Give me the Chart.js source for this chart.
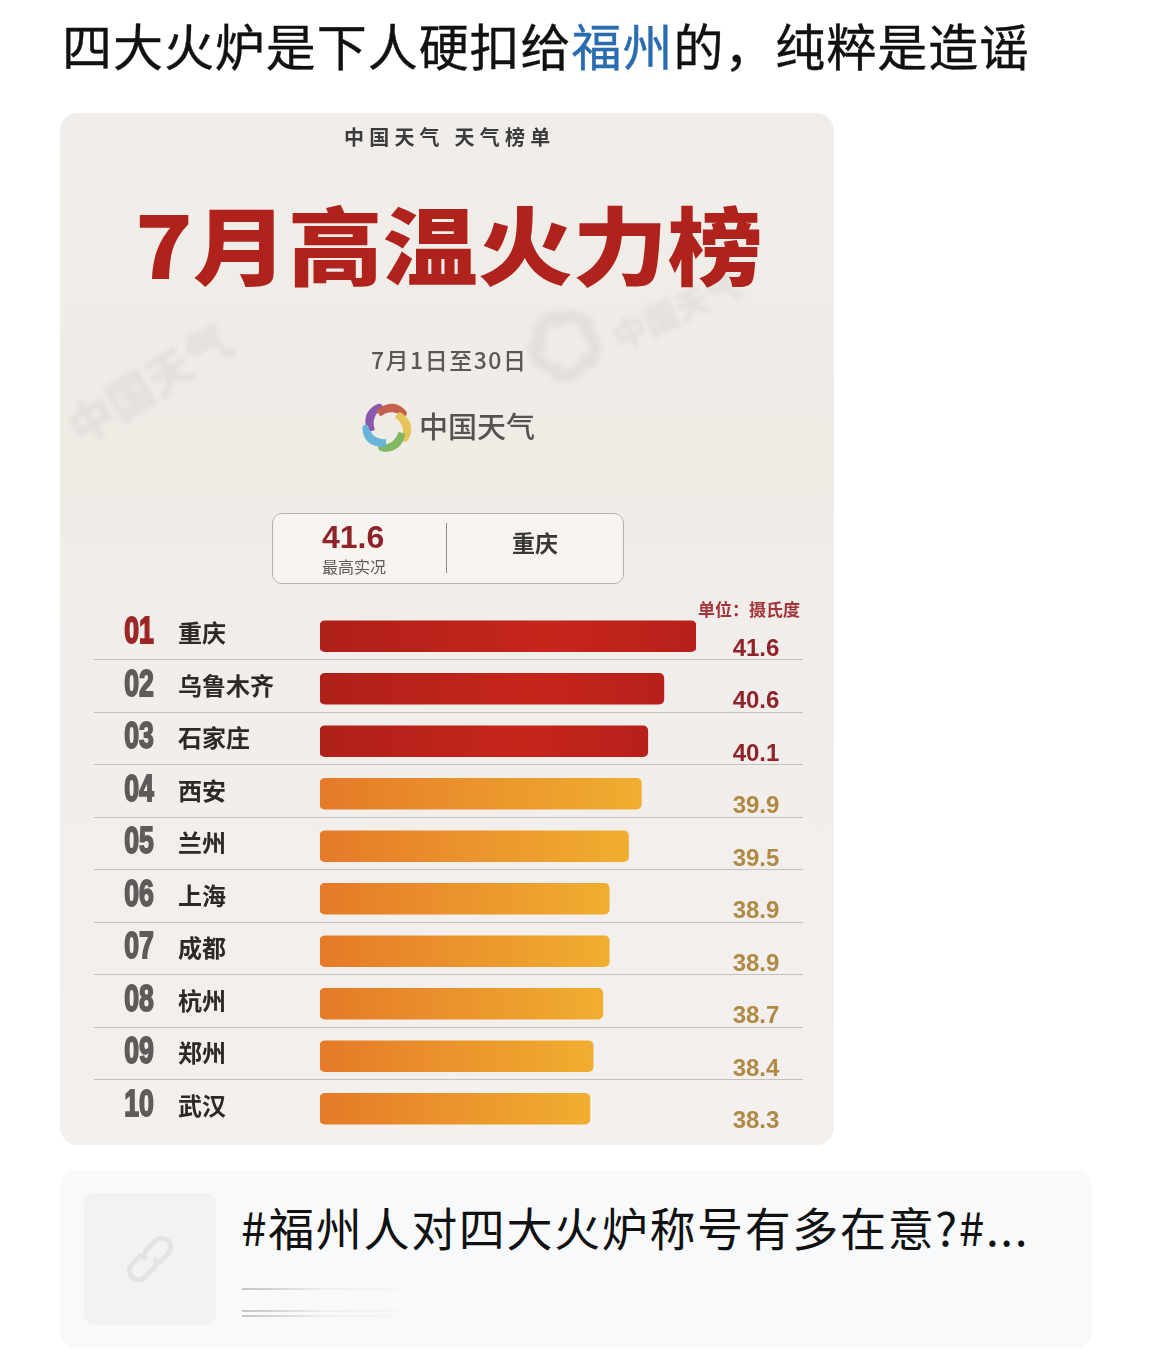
<!DOCTYPE html>
<html lang="zh">
<head>
<meta charset="utf-8">
<title>7月高温火力榜</title>
<script src="https://cdn.jsdelivr.net/npm/chart.js@4"></script>
<style>
  html, body { margin: 0; padding: 0; background: #fff; }
  body { width: 1152px; height: 1356px; position: relative; overflow: hidden; font-family: "Noto Sans CJK SC", sans-serif; }
  .t { position: absolute; white-space: nowrap; line-height: 1; }
  #card { position: absolute; left: 60px; top: 113px; width: 774px; height: 1032px; border-radius: 18px; overflow: hidden;
    background: linear-gradient(180deg, #f1edea 0%, #efece6 35%, #f1edea 50%, #f4f0ee 100%); filter: blur(0.6px); }
  #chartBox { position: absolute; left: 0; top: 477px; width: 774px; height: 555px; }
  #box { position: absolute; left: 212px; top: 400px; width: 350px; height: 69px; background: #f8f5f0; border: 1px solid #b5b1ab; border-radius: 10px; }
  #divider { position: absolute; left: 386px; top: 410px; width: 1px; height: 50px; background: #8d8a86; }
  .wm { color: #e4dfda; font-weight: 900; filter: blur(2.5px); }
  #link { position: absolute; left: 60px; top: 1170px; width: 1032px; height: 178px; background: #f8f9fb; border-radius: 16px; }
  #icon { position: absolute; left: 24px; top: 23px; width: 132px; height: 132px; background: #f1f2f4; border-radius: 10px; }
  .fade { position: absolute; left: 182px; width: 180px; height: 2px; background: linear-gradient(90deg, #c4c4c6, #eeeeef 45%, #f8f9fb); }
</style>
</head>
<body>
<div class="t" id="headline" style="left:62px;top:19px;font-size:50px;font-weight:400;-webkit-text-stroke:.35px #111;letter-spacing:.95px;color:#111">四大火炉是下人硬扣给<span style="color:#2b6cb0;-webkit-text-stroke:.35px #2b6cb0">福州</span>的，纯粹是造谣</div>

<div id="card">
  <div class="t wm" style="left:-4px;top:245px;font-size:46px;transform:rotate(-32deg)">中国天气</div>
  <svg class="wm" style="position:absolute;left:463px;top:190px" width="84" height="84" viewBox="0 0 56 56">
    <g id="wmBlades"></g>
  </svg>
  <div class="t wm" style="left:548px;top:180px;font-size:34px;transform:rotate(-25deg);color:#e3dfda">中国天气</div>

  <div class="t" style="left:284px;top:14px;font-size:20px;font-weight:700;letter-spacing:5.2px;color:#3c3c3c">中国天气 天气榜单</div>
  <div class="t" style="left:75px;top:76px;font-size:95px;font-weight:900;color:#b0221c;transform:scaleY(.9);transform-origin:50% 100%">7月高温火力榜</div>
  <div class="t" style="left:311px;top:235px;font-size:23px;font-weight:500;letter-spacing:1.5px;color:#5a5856">7月1日至30日</div>
  <svg style="position:absolute;left:299px;top:286px" width="56" height="56" viewBox="0 0 56 56">
    <g id="logoBlades"></g>
  </svg>
  <div class="t" style="left:359px;top:298px;font-size:29px;font-weight:500;color:#55534f">中国天气</div>
  <div id="box"></div>
  <div id="divider"></div>
  <div class="t" style="left:262px;top:408px;font-family:'Liberation Sans';font-size:32px;font-weight:700;color:#8f2329">41.6</div>
  <div class="t" style="left:262px;top:445px;font-size:16px;color:#5c5a58">最高实况</div>
  <div class="t" style="left:452px;top:418px;font-size:23px;font-weight:700;color:#3a3836">重庆</div>
  <div class="t" style="left:638px;top:487px;font-size:17px;font-weight:700;color:#a2343a">单位：摄氏度</div>
  <div id="chartBox"><canvas id="chart"></canvas></div>
</div>

<div id="link">
  <div id="icon">
    <svg width="132" height="132" viewBox="0 0 132 132" fill="none" stroke="#e2e3e5" stroke-width="6" stroke-linecap="round">
      <g transform="translate(66 66) scale(.82) rotate(-45) translate(-66 -66)">
        <path d="M60 55 H46 a11 11 0 0 0 0 22 H62 a11 11 0 0 0 8 -6"/>
        <path d="M72 77 H86 a11 11 0 0 0 0 -22 H70 a11 11 0 0 0 -8 6"/>
      </g>
    </svg>
  </div>
  <div class="t" style="left:181px;top:33px;font-size:46px;letter-spacing:1.65px;color:#111">#福州人对四大火炉称号有多在意?#...</div>
  <div class="fade" style="top:118px"></div>
  <div class="fade" style="top:140px"></div>
  <div class="fade" style="top:145px"></div>
</div>

<script>
// values
const ranks = ['01', '02', '03', '04', '05', '06', '07', '08', '09', '10'];
const cities = ['重庆', '乌鲁木齐', '石家庄', '西安', '兰州', '上海', '成都', '杭州', '郑州', '武汉'];
const temps = [41.6, 40.6, 40.1, 39.9, 39.5, 38.9, 38.9, 38.7, 38.4, 38.3];
const hotLimit = 40;
const axisMin = 29.9;
const axisMax = 41.6;

// logo blades, one shape turned five times
const bladePath = 'M19 5 C8 9 3 20 9 33 L16 31 C13 23 15 15 23 10 C25 7 22 4 19 5Z';
const bladeColors = ['#8a58ae', '#c4604c', '#e6c65a', '#82b860', '#68b4d8'];
const wmColors = ['#e3dfda', '#e3dfda', '#e3dfda', '#e3dfda', '#e3dfda'];
function fillBlades(id, colors) {
  document.getElementById(id).innerHTML = colors.map(function (c, i) {
    return '<path d="' + bladePath + '" fill="' + c + '" transform="rotate(' + (i * 72) + ' 28 28)"/>';
  }).join('');
}
fillBlades('logoBlades', bladeColors);
fillBlades('wmBlades', wmColors);

function barFill(context) {
  const chart = context.chart;
  if (!chart.chartArea) return '#c6261b';
  const v = temps[context.dataIndex];
  const g = chart.ctx.createLinearGradient(chart.scales.x.left, 0, chart.scales.x.getPixelForValue(v), 0);
  if (v >= hotLimit) {
    g.addColorStop(0, '#ae2019');
    g.addColorStop(0.6, '#c6251b');
    g.addColorStop(1, '#b8201b');
  } else {
    g.addColorStop(0, '#e57a28');
    g.addColorStop(1, '#f0ae30');
  }
  return g;
}

// rank, city, value and the row rules, placed from the chart's own scales
const rowText = {
  id: 'rowText',
  afterDatasetsDraw(chart) {
    const ctx = chart.ctx;
    const y = chart.scales.y;
    ctx.save();
    ctx.textBaseline = 'middle';
    cities.forEach(function (city, i) {
      const py = y.getPixelForValue(i);
      const hot = temps[i] >= hotLimit;

      if (i < cities.length - 1) {
        ctx.strokeStyle = '#c4c0bc';
        ctx.lineWidth = 1;
        ctx.beginPath();
        ctx.moveTo(34, Math.round(py + 23) + 0.5);
        ctx.lineTo(743, Math.round(py + 23) + 0.5);
        ctx.stroke();
      }

      ctx.save();
      ctx.translate(79, py - 3);
      ctx.scale(0.74, 1);
      ctx.font = 'bold 36px "Liberation Sans"';
      ctx.textAlign = 'center';
      ctx.fillStyle = i === 0 ? '#9c2626' : '#5f5b5a';
      ctx.strokeStyle = ctx.fillStyle;
      ctx.lineWidth = 1.8;
      ctx.strokeText(ranks[i], 0, 0);
      ctx.fillText(ranks[i], 0, 0);
      ctx.restore();

      ctx.font = '600 24px "Noto Sans CJK SC"';
      ctx.textAlign = 'left';
      ctx.fillStyle = '#2c2a28';
      ctx.fillText(city, 118, py - 3);

      ctx.font = 'bold 24px "Liberation Sans"';
      ctx.textAlign = 'center';
      ctx.fillStyle = hot ? '#8f2329' : '#b08a45';
      ctx.fillText(temps[i].toFixed(1), 696, py + 13);
    });
    ctx.restore();
  }
};

new Chart(document.getElementById('chart'), {
  type: 'bar',
  plugins: [rowText],
  data: {
    labels: cities,
    datasets: [{
      data: temps,
      base: axisMin,
      backgroundColor: barFill,
      borderRadius: 5,
      borderSkipped: false,
      barThickness: 31,
    }]
  },
  options: {
    indexAxis: 'y',
    responsive: true,
    maintainAspectRatio: false,
    animation: false,
    layout: { padding: { left: 260, right: 138, top: 20, bottom: 10 } },
    plugins: { legend: { display: false }, tooltip: { enabled: false } },
    scales: {
      x: { display: false, min: axisMin, max: axisMax },
      y: { display: false },
    },
  }
});
</script>
</body>
</html>
